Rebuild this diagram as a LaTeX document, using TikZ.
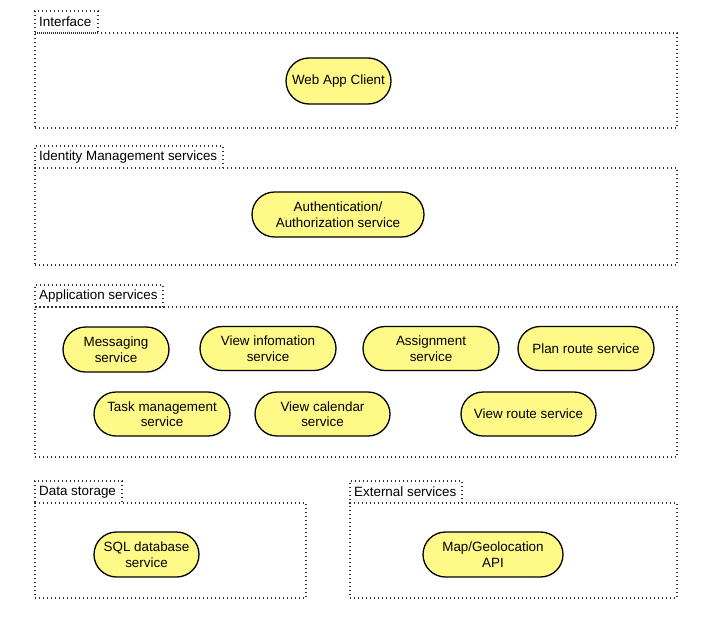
\documentclass[tikz,border=0pt]{standalone}
\usepackage{fontspec}
\setmainfont{Liberation Sans}
\usetikzlibrary{shapes.misc}
\begin{document}
\begin{tikzpicture}[x=1pt,y=-1pt,
  svc/.style={rounded rectangle, draw=black, line width=1.3pt, fill=yellow!47!white,
    inner sep=0pt, align=center, font=\fontsize{13.4}{15.5}\selectfont,
    minimum height=45pt},
  frame/.style={draw=black!80, dash pattern=on 1.2pt off 2.8pt, line width=1.2pt,
    inner sep=0pt, rectangle},
  lbl/.style={frame},
  ltext/.style={anchor=west, font=\fontsize{13.4}{15.5}\selectfont, inner sep=0pt}]
\useasboundingbox (0,0) rectangle (703,621);
% frames
\node[frame, minimum width=642pt, minimum height=95pt] (fInt) at (356,80.5) {};
\node[lbl, minimum width=63pt, minimum height=22pt] (lInt) at (66.5,22) {};
\node[ltext] (tInt) at (39,22) {Interface};

\node[frame, minimum width=642pt, minimum height=97pt] (fIdm) at (356,216.5) {};
\node[lbl, minimum width=188pt, minimum height=22pt] (lIdm) at (129,157) {};
\node[ltext] (tIdm) at (39,157) {Identity Management services};

\node[frame, minimum width=642pt, minimum height=150pt] (fApp) at (356,382) {};
\node[lbl, minimum width=128pt, minimum height=22pt] (lApp) at (99,296) {};
\node[ltext] (tApp) at (39,296) {Application services};

\node[frame, minimum width=271pt, minimum height=95pt] (fDat) at (170.5,550.5) {};
\node[lbl, minimum width=87pt, minimum height=22pt] (lDat) at (78.5,492) {};
\node[ltext] (tDat) at (39,492) {Data storage};

\node[frame, minimum width=327pt, minimum height=95pt] (fExt) at (513.5,550.5) {};
\node[lbl, minimum width=112pt, minimum height=22pt] (lExt) at (406,492) {};
\node[ltext] (tExt) at (354,492) {External services};

% services
\node[svc, minimum width=105pt, minimum height=46pt] (web) at (338.5,81) {Web App Client};
\node[svc, minimum width=172pt] (auth) at (338,214.5) {Authentication/\\Authorization service};
\node[svc, minimum width=106pt] (msg) at (116,349.5) {Messaging\\service};
\node[svc, minimum width=136pt, minimum height=44pt] (info) at (268,348.5) {View infomation\\service};
\node[svc, minimum width=136pt, minimum height=44pt] (asg) at (431,348.5) {Assignment\\service};
\node[svc, minimum width=136pt, minimum height=44pt] (plan) at (586,348.5) {Plan route service};
\node[svc, minimum width=136pt, minimum height=44pt] (task) at (162,414) {Task management\\service};
\node[svc, minimum width=135pt, minimum height=44pt] (cal) at (322.5,414) {View calendar\\service};
\node[svc, minimum width=135pt, minimum height=44pt] (route) at (528.5,414) {View route service};
\node[svc, minimum width=105pt] (sql) at (146.5,554.5) {SQL database\\service};
\node[svc, minimum width=140pt] (map) at (493,554.5) {Map/Geolocation\\API};
\end{tikzpicture}
\end{document}
